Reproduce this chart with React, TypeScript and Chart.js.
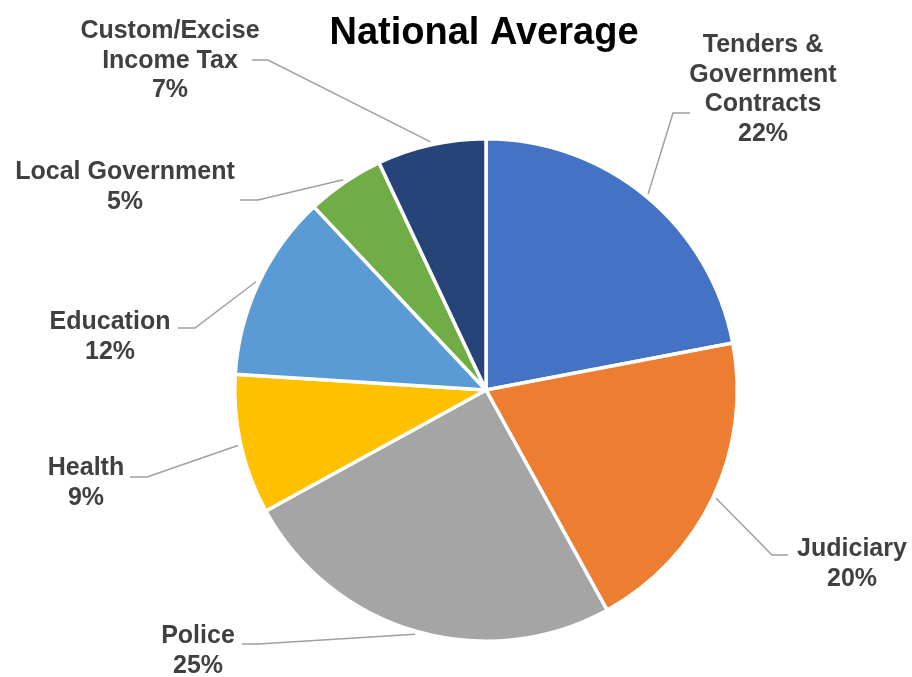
import React, { useEffect, useRef } from "react";
import { Chart, registerables } from "chart.js";

Chart.register(...registerables);

const TITLE = "National Average";
const CATEGORIES = [
  ["Tenders &", "Government", "Contracts"],
  ["Judiciary"],
  ["Police"],
  ["Health"],
  ["Education"],
  ["Local Government"],
  ["Custom/Excise", "Income Tax"],
];
const VALUES = [22, 20, 25, 9, 12, 5, 7];
const COLORS = ["#4472C4", "#ED7D31", "#A5A5A5", "#FFC000", "#5B9BD5", "#70AD47", "#264478"];

// label layout: text centre x, first line y, elbow point, line end point
const LABEL_LAYOUT = [
  { cx: 763, y0: 45, elbow: [673, 113], end: [690, 113] },
  { cx: 852, y0: 549, elbow: [772, 555], end: [788, 555] },
  { cx: 198, y0: 636, elbow: [258, 644], end: [242, 644] },
  { cx: 86, y0: 468, elbow: [147, 477], end: [130, 477] },
  { cx: 110, y0: 322, elbow: [195, 328], end: [178, 328] },
  { cx: 125, y0: 172, elbow: [258, 200], end: [240, 200] },
  { cx: 170, y0: 31, elbow: [268, 60], end: [252, 60] },
];

const labelPlugin = {
  id: "leaderLabels",
  afterDatasetsDraw(chart: any) {
    const ctx = chart.ctx;
    const meta = chart.getDatasetMeta(0);
    const total = VALUES.reduce((a, b) => a + b, 0);
    ctx.save();
    // title
    ctx.font = "bold 38px 'Liberation Sans', Arial, sans-serif";
    ctx.fillStyle = "#000000";
    ctx.textAlign = "center";
    ctx.textBaseline = "alphabetic";
    ctx.fillText(TITLE, 484, 44);

    meta.data.forEach((arc: any, i: number) => {
      const p = arc.getProps(["x", "y", "startAngle", "endAngle", "outerRadius"], true);
      const mid = (p.startAngle + p.endAngle) / 2;
      const r = p.outerRadius + 3;
      const sx = p.x + Math.cos(mid) * r;
      const sy = p.y + Math.sin(mid) * r;
      const L = LABEL_LAYOUT[i];
      ctx.beginPath();
      ctx.strokeStyle = "#A0A0A0";
      ctx.lineWidth = 1.5;
      ctx.moveTo(sx, sy);
      ctx.lineTo(L.elbow[0], L.elbow[1]);
      ctx.lineTo(L.end[0], L.end[1]);
      ctx.stroke();

      const lines = [...CATEGORIES[i], Math.round((VALUES[i] / total) * 100) + "%"];
      ctx.font = "bold 25px 'Liberation Sans', Arial, sans-serif";
      ctx.fillStyle = "#404040";
      ctx.textAlign = "center";
      ctx.textBaseline = "middle";
      lines.forEach((t, k) => ctx.fillText(t, L.cx, L.y0 + k * 29.7));
    });
    ctx.restore();
  },
};

export default function App() {
  const ref = useRef<HTMLCanvasElement>(null);
  useEffect(() => {
    document.body.style.margin = "0";
    const chart = new Chart(ref.current!, {
      type: "pie",
      data: {
        labels: CATEGORIES.map((c) => c.join(" ")),
        datasets: [
          {
            data: VALUES,
            backgroundColor: COLORS,
            borderColor: "#FFFFFF",
            borderWidth: 3.5,
          },
        ],
      },
      options: {
        animation: false,
        responsive: false,
        rotation: 0,
        layout: { padding: { left: 233, right: 173, top: 137, bottom: 34 } },
        plugins: {
          legend: { display: false },
          tooltip: { enabled: false },
          title: { display: false },
        },
      },
      plugins: [labelPlugin],
    });
    return () => chart.destroy();
  }, []);
  return (
    <div style={{ width: 912, height: 677, background: "#fff" }}>
      <canvas ref={ref} width={912} height={677} style={{ width: 912, height: 677 }} />
    </div>
  );
}
